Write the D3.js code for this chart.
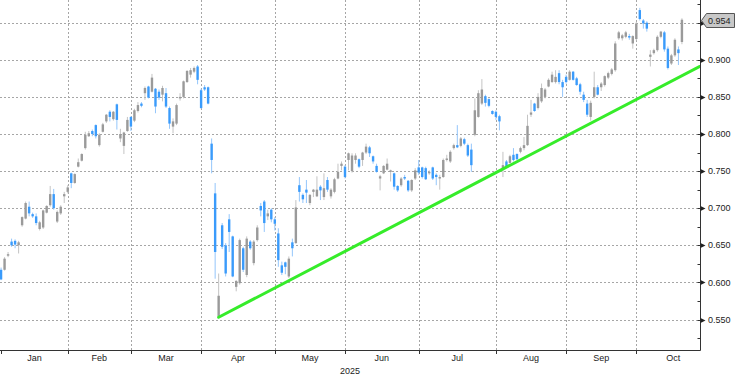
<!DOCTYPE html>
<html>
<head>
<meta charset="utf-8">
<script src="https://cdn.jsdelivr.net/npm/d3@7"></script>
<style>
  body { margin: 0; background: #fff; }
  svg { display: block; }
  text { font-family: "Liberation Sans", Arial, sans-serif; font-size: 9px; fill: #222; }
</style>
</head>
<body>
<svg id="chart" width="736" height="375"></svg>
<script>
// daily candles, Jan -> Oct 2025
const opens = [
  .617,.617,.636,.655,.656,.650,.677,.686,.702,.692,.689,.672,.674,.694,.704,.719,.682,.693,.716,
  .722,.747,.734,.756,.764,.781,.797,.804,.812,.785,.803,.817,.830,.820,.840,.794,.784,.804,
  .823,.818,.831,.841,.855,.864,.857,.861,.857,.853,.855,.835,.810,.814,.848,.850,.870,.880,.884,.891,
  .859,.863,.863,.787,.720,.554,.677,.650,.685,.662,.594,.599,.646,.610,.655,.626,.657,.703,.709,.689,.698,
  .685,.666,.623,.627,.608,.654,.653,.731,.718,.725,.707,.722,.716,.729,.715,.738,.716,.722,.740,.757,
  .756,.765,.750,.765,.766,.765,.775,.782,.770,.757,.740,.747,.752,.749,.747,.730,.731,.742,.737,.724,.740,
  .755,.755,.754,.747,.755,.745,.740,.742,.765,.763,.781,.785,.784,.793,.785,.779,.799,.823,.841,.851,.847,.831,
  .830,.824,.754,.763,.761,.772,.773,.776,.781,.785,.826,.841,.835,.844,.850,.864,.870,.870,.882,.870,
  .877,.873,.884,.875,.867,.853,.841,.823,.850,.863,.863,.866,.876,.881,.886,.929,.929,.931,.932,.922,
  .928,.967,.953,.950,.904,.909,.913,.931,.937,.915,.895,.906,.914,.924
];
const highs = [
  .620,.634,.641,.659,.658,.656,.689,.709,.709,.694,.693,.683,.698,.704,.730,.726,.697,.704,.722,
  .731,.748,.747,.767,.774,.803,.804,.806,.813,.801,.815,.827,.832,.831,.841,.807,.803,.823,
  .824,.834,.843,.843,.864,.865,.881,.862,.860,.865,.862,.837,.821,.841,.855,.872,.886,.889,.891,.893,
  .861,.866,.864,.794,.734,.612,.680,.653,.692,.663,.603,.659,.648,.662,.657,.657,.677,.707,.711,.698,.700,
  .688,.673,.628,.628,.635,.659,.711,.742,.720,.738,.719,.726,.743,.731,.747,.742,.727,.741,.760,.763,
  .758,.775,.774,.774,.767,.776,.787,.784,.771,.760,.745,.758,.767,.752,.748,.731,.742,.745,.738,.739,.754,
  .765,.756,.756,.751,.756,.747,.745,.767,.772,.778,.787,.812,.796,.795,.787,.787,.848,.859,.874,.853,.848,.832,
  .832,.826,.776,.765,.772,.781,.774,.783,.796,.826,.846,.842,.855,.868,.862,.875,.884,.886,.886,.873,
  .880,.886,.885,.877,.869,.857,.846,.845,.884,.866,.870,.879,.884,.889,.925,.939,.935,.939,.935,.933,
  .951,.970,.955,.952,.913,.915,.933,.939,.939,.918,.908,.929,.918,.956
];
const lows = [
  .603,.616,.634,.648,.646,.639,.675,.685,.689,.687,.677,.670,.672,.693,.702,.698,.680,.691,.707,
  .720,.727,.733,.755,.763,.779,.796,.797,.794,.783,.802,.815,.817,.818,.806,.789,.773,.803,
  .804,.816,.829,.836,.846,.848,.856,.828,.846,.844,.835,.807,.801,.812,.845,.848,.869,.876,.882,.867,
  .834,.858,.840,.747,.605,.552,.645,.608,.641,.607,.588,.597,.614,.607,.644,.623,.655,.689,.668,.684,.681,
  .670,.621,.610,.611,.606,.635,.652,.709,.707,.707,.704,.715,.715,.711,.711,.722,.713,.720,.739,.751,
  .740,.751,.748,.760,.754,.757,.773,.769,.760,.748,.724,.746,.751,.736,.725,.722,.729,.738,.722,.722,.738,
  .745,.740,.738,.745,.738,.731,.725,.741,.763,.761,.779,.781,.782,.785,.769,.749,.797,.822,.839,.837,.836,.826,
  .819,.805,.742,.754,.760,.763,.765,.774,.778,.784,.823,.830,.833,.842,.848,.863,.869,.868,.867,.850,
  .868,.872,.872,.865,.853,.843,.823,.818,.848,.852,.858,.864,.874,.879,.884,.927,.926,.929,.927,.915,
  .926,.953,.942,.938,.891,.907,.911,.929,.911,.887,.893,.904,.893,.921
];
const closes = [
  .604,.632,.638,.650,.651,.654,.688,.707,.693,.689,.680,.681,.697,.703,.719,.700,.695,.702,.719,
  .728,.734,.746,.762,.773,.799,.801,.800,.797,.799,.813,.826,.823,.830,.819,.800,.802,.819,
  .810,.832,.839,.838,.862,.849,.876,.837,.849,.862,.837,.814,.817,.839,.850,.871,.885,.886,.889,.873,
  .835,.860,.841,.765,.641,.582,.648,.612,.668,.608,.602,.657,.617,.659,.646,.655,.674,.697,.680,.693,.685,
  .679,.630,.613,.621,.632,.646,.701,.722,.712,.721,.718,.725,.725,.724,.727,.725,.725,.739,.749,.760,
  .742,.774,.771,.771,.756,.775,.783,.774,.763,.749,.743,.757,.760,.751,.729,.724,.740,.740,.724,.738,.751,
  .748,.742,.739,.749,.740,.742,.742,.765,.767,.776,.785,.782,.794,.787,.771,.758,.832,.855,.860,.842,.838,.827,
  .823,.817,.758,.756,.770,.765,.766,.781,.785,.811,.829,.831,.850,.862,.860,.873,.880,.877,.870,.863,
  .870,.884,.873,.866,.857,.846,.826,.842,.863,.853,.868,.878,.882,.887,.922,.937,.933,.937,.930,.932,
  .949,.955,.949,.942,.907,.913,.931,.938,.914,.889,.906,.927,.909,.954
];

const monthLabels = ["Jan", "Feb", "Mar", "Apr", "May", "Jun", "Jul", "Aug", "Sep", "Oct"];
const monthStarts = [0, 19, 37, 57, 78, 98, 119, 141, 161, 181];
const yearLabel = "2025";
const yTicks = [0.55, 0.60, 0.65, 0.70, 0.75, 0.80, 0.85, 0.90, 0.95];
const yMinorTicks = d3.range(0.525, 0.976, 0.025);

// support line drawn on the chart (candle index, value)
const trendIdx = [62, 199];
const trendVals = [0.553, 0.891];

const W = 700, H = 350;
const svg = d3.select("#chart");

const x = d3.scaleLinear().domain([-0.3, 199.15]).range([0, W]);
const y = d3.scaleLinear().domain([0.5089, 0.9806]).range([H, 0]);

const candles = closes.map((c, i) => ({ i, o: opens[i], h: highs[i], l: lows[i], c }));

// grid
const grid = svg.append("g").attr("stroke", "#a6a6a6").attr("stroke-dasharray", "2,2").attr("stroke-width", 1);
grid.selectAll(".hg").data(yTicks).enter().append("line")
  .attr("x1", 0).attr("x2", W)
  .attr("y1", d => Math.round(y(d)) + 0.5).attr("y2", d => Math.round(y(d)) + 0.5);
grid.selectAll(".vg").data(monthStarts.slice(1)).enter().append("line")
  .attr("x1", d => Math.round(x(d)) + 0.5).attr("x2", d => Math.round(x(d)) + 0.5)
  .attr("y1", 0).attr("y2", H);

// candles
const cg = svg.append("g");
cg.selectAll(".wick").data(candles).enter().append("rect")
  .attr("x", d => x(d.i) - 0.5).attr("width", 1)
  .attr("y", d => y(d.h)).attr("height", d => Math.max(1, y(d.l) - y(d.h)))
  .attr("fill", d => d.c >= d.o ? "#c4c4c4" : "#94c6fb");
cg.selectAll(".body").data(candles).enter().append("rect")
  .attr("x", d => x(d.i) - 1.2).attr("width", 2.4)
  .attr("y", d => y(Math.max(d.o, d.c)))
  .attr("height", d => Math.max(1.2, Math.abs(y(d.o) - y(d.c))))
  .attr("fill", d => d.c >= d.o ? "#9a9a9a" : "#3a9bfb");

// trend line
svg.append("clipPath").attr("id", "plot").append("rect").attr("width", W).attr("height", H);
svg.append("line")
  .attr("clip-path", "url(#plot)")
  .attr("x1", x(trendIdx[0])).attr("y1", y(trendVals[0]))
  .attr("x2", x(trendIdx[1])).attr("y2", y(trendVals[1]))
  .attr("stroke", "#36ec2a").attr("stroke-width", 3).attr("stroke-linecap", "round");

// axes
const axisX = W + 0.5;
svg.append("line").attr("x1", axisX).attr("x2", axisX).attr("y1", 0).attr("y2", H + 0.5)
  .attr("stroke", "#333");
svg.append("line").attr("x1", 0).attr("x2", axisX).attr("y1", H + 0.5).attr("y2", H + 0.5)
  .attr("stroke", "#333");

svg.selectAll(".ymin").data(yMinorTicks).enter().append("line")
  .attr("x1", axisX - 3).attr("x2", axisX)
  .attr("y1", d => Math.round(y(d)) + 0.5).attr("y2", d => Math.round(y(d)) + 0.5)
  .attr("stroke", "#333");
svg.selectAll(".ymark").data(yTicks).enter().append("path")
  .attr("d", d => { const yy = Math.round(y(d)) + 0.5; return `M${axisX},${yy - 2.5}L${axisX + 5},${yy}L${axisX},${yy + 2.5}Z`; })
  .attr("fill", "#222");

// last value tag hides the tick label it sits on
const last = closes[closes.length - 1];
const ly = Math.round(y(last));
svg.selectAll(".ylab").data(yTicks.filter(d => Math.abs(y(d) - ly) > 12)).enter().append("text")
  .attr("x", 708).attr("y", d => y(d)).attr("dy", "0.35em")
  .text(d3.format(".3f"));

svg.append("path")
  .attr("d", `M${axisX + 1},${ly + 0.5}L${axisX + 6},${ly - 6.5}L734.5,${ly - 6.5}L734.5,${ly + 7.5}L${axisX + 6},${ly + 7.5}Z`)
  .attr("fill", "#c8c8c8").attr("stroke", "#555");
svg.append("text").attr("x", 708).attr("y", ly + 0.5).attr("dy", "0.35em")
  .text(d3.format(".3f")(last));

// x ticks and month labels
svg.selectAll(".xt").data(monthStarts).enter().append("line")
  .attr("x1", d => Math.round(x(d)) + 0.5).attr("x2", d => Math.round(x(d)) + 0.5)
  .attr("y1", H).attr("y2", H + 4).attr("stroke", "#333");
const monthEnd = k => k + 1 < monthStarts.length ? monthStarts[k + 1] : monthStarts[k] + 21;
svg.selectAll(".xl").data(monthLabels).enter().append("text")
  .attr("x", (d, k) => (x(monthStarts[k]) + x(monthEnd(k))) / 2)
  .attr("y", 358).attr("dy", "0.35em").attr("text-anchor", "middle")
  .text(d => d);
svg.append("text").attr("x", W / 2).attr("y", 371)
  .attr("dy", "0.35em").attr("text-anchor", "middle").text(yearLabel);
</script>
</body>
</html>
